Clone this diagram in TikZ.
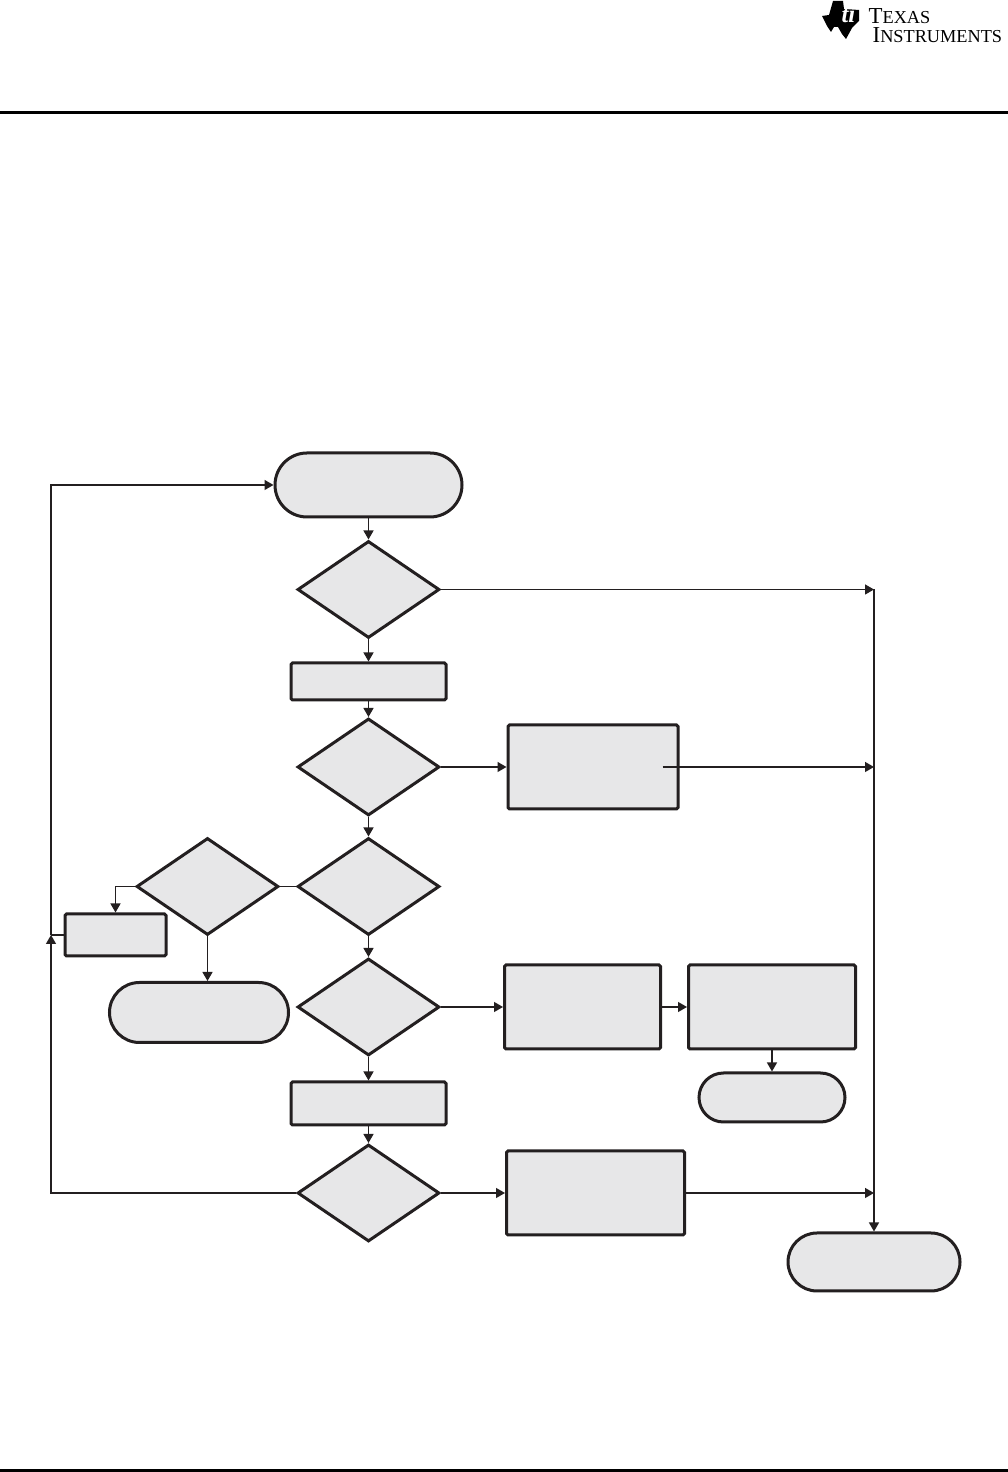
\documentclass[tikz,border=0pt]{standalone}
\usepackage{fontspec}
\setmainfont{Liberation Serif}
\usetikzlibrary{arrows.meta, positioning, shapes.geometric, shapes.misc}
\definecolor{boxgray}{HTML}{E7E7E8}
\definecolor{inkblack}{HTML}{231F20}

\begin{document}
\begin{tikzpicture}[node distance=0.21cm, >={Triangle[length=0.09cm,width=0.10cm]}, line width=0.013cm, draw=inkblack,
  startstop/.style={draw=inkblack, fill=boxgray, rounded rectangle, line width=0.03cm, inner sep=0pt, minimum width=#1},
  process/.style={draw=inkblack, fill=boxgray, rectangle, rounded corners=0.015cm, line width=0.03cm, inner sep=0pt, minimum width=#1},
  decision/.style={draw=inkblack, fill=boxgray, diamond, line width=0.03cm, inner sep=0pt, minimum width=1.42cm, minimum height=0.97cm},
  logotext/.style={inner sep=0pt, text=black, anchor=base west}]

  \useasboundingbox (0,0) rectangle (10.08,14.72);
  \fill [black] (0,13.58) rectangle (10.08,13.61);
  \fill [black] (0,0) rectangle (10.08,0.03);

  \fill [black] (8.22,14.56) -- (8.29,14.57) -- (8.33,14.71) -- (8.43,14.71) -- (8.44,14.63) -- (8.59,14.62) -- (8.59,14.51)
    -- (8.52,14.44) -- (8.46,14.33) -- (8.42,14.38) -- (8.38,14.45) -- (8.34,14.45) -- (8.31,14.40) -- (8.27,14.46) -- cycle;
  \node [logotext, text=white] (logoti) at (8.41,14.49) {\fontsize{7}{7}\selectfont\bfseries\itshape ti};
  \node [logotext] (logotexas) at (8.68,14.48) {\fontsize{6.5}{7}\selectfont T\fontsize{5.2}{7}\selectfont EXAS};
  \node [logotext] (logoinstr) at (8.72,14.29) {\fontsize{6.5}{7}\selectfont I\fontsize{5.2}{7}\selectfont NSTRUMENTS};

  \node [startstop=1.87cm, minimum height=0.64cm] (start) at (3.685,9.87) {};
  \node [decision, below=of start] (checka) {};
  \node [process=1.55cm, minimum height=0.37cm, below=0.22cm of checka] (boxa) {};
  \node [decision, below=0.155cm of boxa] (checkb) {};
  \node [process=1.70cm, minimum height=0.84cm, right=0.655cm of checkb] (boxb) {};
  \node [decision, below=0.195cm of checkb] (checkc) {};
  \node [decision, left=0.16cm of checkc] (checkd) {};
  \node [process=1.01cm, minimum height=0.42cm, below left=0.26cm and -0.325cm of checkd.west] (boxc) {};
  \node [startstop=1.79cm, minimum height=0.60cm, below=0.445cm of checkd, xshift=-0.085cm] (stopa) {};
  \node [decision, below=0.205cm of checkc] (checke) {};
  \node [process=1.56cm, minimum height=0.84cm, right=0.62cm of checke] (boxd) {};
  \node [process=1.67cm, minimum height=0.84cm, right=0.25cm of boxd] (boxe) {};
  \node [startstop=1.46cm, minimum height=0.49cm, below=of boxe] (stopb) {};
  \node [process=1.55cm, minimum height=0.43cm, below=0.235cm of checke] (boxf) {};
  \node [decision, below=0.165cm of boxf] (checkf) {};
  \node [process=1.78cm, minimum height=0.84cm, right=0.64cm of checkf] (boxg) {};

  \coordinate [right=4.33cm of checka.east] (joina);
  \coordinate (joinb) at (joina |- boxb);
  \coordinate (joinc) at (joina |- boxg);
  \coordinate [left=0.17cm of boxb.east] (boxbin);
  \coordinate [left=2.45cm of checkf.west] (backa);
  \coordinate (backb) at (backa |- boxc);
  \node [startstop=1.72cm, minimum height=0.58cm, below=0.385cm of joinc] (stopc) {};

  \draw [->] (start) -- (checka);
  \draw [->] (checka) -- (boxa);
  \draw [->] (boxa) -- (checkb);
  \draw [->] (checkb) -- (checkc);
  \draw [->] (checkc) -- (checke);
  \draw [->] (checke) -- (boxf);
  \draw [->] (boxf) -- (checkf);
  \draw [->] (checka.east) -- (joina);
  \draw [->] (checkb.east) -- (boxb.west);
  \draw [->] (boxbin) -- (joinb);
  \draw [->] (checke.east) -- (boxd.west);
  \draw [->] (boxd) -- (boxe);
  \draw [->] (boxe) -- (stopb);
  \draw [->] (checkf.east) -- (boxg.west);
  \draw [->] (boxg) -- (joinc);
  \draw [->] (joina) -- (stopc.north);
  \draw (checkc.west) -- (checkd.east);
  \draw [->] (checkd.west) -| (boxc.north);
  \draw [->] (checkd.south) -- (checkd.south |- stopa.north);
  \draw (boxc.west) -- (backb);
  \draw [->] (checkf.west) -- (backa) -- (backb);
  \draw [->] (backb) |- (start.west);
\end{tikzpicture}
\end{document}
